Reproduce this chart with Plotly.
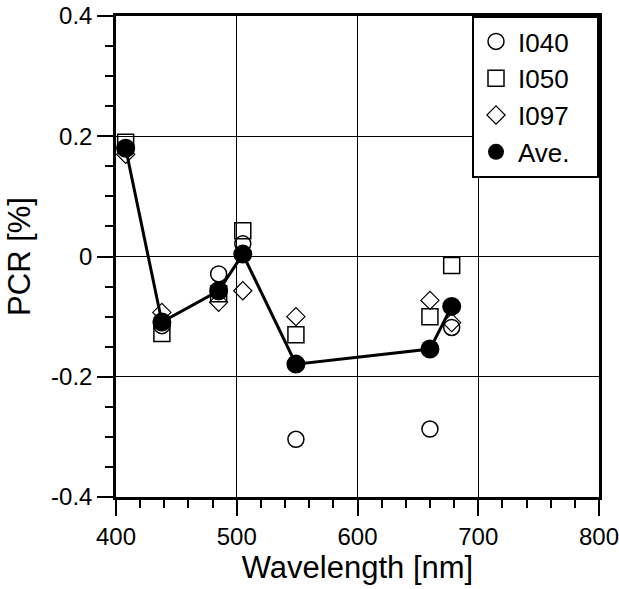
import plotly.graph_objects as go

wavelength = [408, 438, 485, 505, 549, 660, 678]
i040 = [0.180, -0.115, -0.029, 0.021, -0.304, -0.287, -0.118]
i050 = [0.190, -0.128, -0.062, 0.043, -0.130, -0.100, -0.015]
i097 = [0.170, -0.093, -0.076, -0.057, -0.100, -0.073, -0.110]
ave = [0.180, -0.109, -0.057, 0.004, -0.179, -0.154, -0.083]

series_names = ["I040", "I050", "I097", "Ave."]

x_ticks = [400, 500, 600, 700, 800]
y_ticks = [-0.4, -0.2, 0, 0.2, 0.4]
y_ticktext = ["-0.4", "-0.2", "0", "0.2", "0.4"]

FONT = "Liberation Sans, Arial, Helvetica, sans-serif"
PAD = "\u00a0" * 3

fig = go.Figure()
fig.add_trace(go.Scatter(x=wavelength, y=ave, mode="lines", name="Ave. line", showlegend=False,
                         line=dict(color="black", width=3), hoverinfo="skip"))
fig.add_trace(go.Scatter(x=wavelength, y=i040, mode="markers", name=series_names[0] + PAD,
                         marker=dict(symbol="circle-open", size=16, color="black", line=dict(width=1.5))))
fig.add_trace(go.Scatter(x=wavelength, y=i050, mode="markers", name=series_names[1] + PAD,
                         marker=dict(symbol="square-open", size=16, color="black", line=dict(width=1.5))))
fig.add_trace(go.Scatter(x=wavelength, y=i097, mode="markers", name=series_names[2] + PAD,
                         marker=dict(symbol="diamond-open", size=14, color="black", line=dict(width=1.2))))
fig.add_trace(go.Scatter(x=wavelength, y=ave, mode="markers", name=series_names[3] + PAD,
                         marker=dict(symbol="circle", size=19, color="black")))

axis_common = dict(showline=True, linecolor="black", linewidth=2.5, mirror=True,
                   showgrid=True, gridcolor="black", gridwidth=1,
                   ticks="outside", ticklen=16, tickwidth=2, tickcolor="black",
                   zeroline=False, automargin=False, ticklabeloverflow="allow",
                   tickfont=dict(size=24, color="black", family=FONT))

fig.update_xaxes(range=[400, 800], tickvals=x_ticks,
                 minor=dict(dtick=20, ticks="outside", ticklen=8, tickwidth=2, tickcolor="black", showgrid=False),
                 title=dict(text="Wavelength [nm]", font=dict(size=31, color="black", family=FONT), standoff=4),
                 **axis_common)
fig.update_yaxes(range=[-0.4, 0.4], tickvals=y_ticks, ticktext=y_ticktext,
                 minor=dict(dtick=0.05, ticks="outside", ticklen=8, tickwidth=2, tickcolor="black", showgrid=False),
                 title=dict(text="PCR [%]", font=dict(size=31, color="black", family=FONT), standoff=12),
                 **axis_common)

fig.update_layout(
    width=619, height=589,
    margin=dict(l=116, r=20, t=16, b=92),
    paper_bgcolor="white", plot_bgcolor="white",
    font=dict(family=FONT, color="black"),
    showlegend=True,
    legend=dict(x=1, y=1, xanchor="right", yanchor="top",
                bgcolor="white", bordercolor="black", borderwidth=2,
                font=dict(size=26, color="black", family=FONT),
                itemsizing="trace", itemwidth=34),
)

fig.write_html("out.html")
